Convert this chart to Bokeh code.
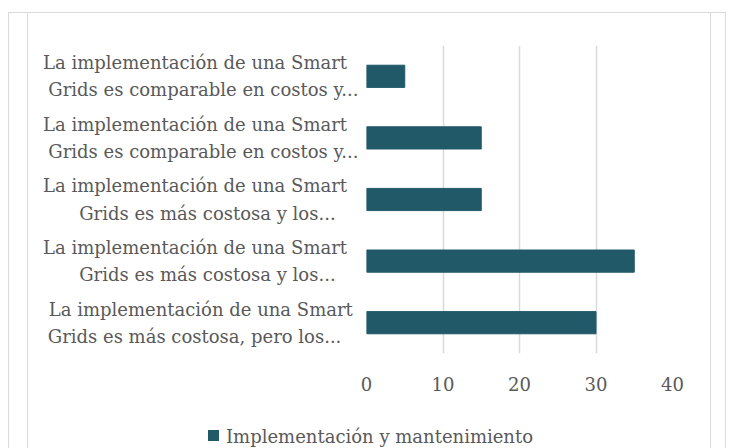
from bokeh.plotting import figure
from bokeh.layouts import column
from bokeh.models import (Range1d, FixedTicker, ColumnDataSource, InlineStyleSheet, Div)
from bokeh.embed import file_html
from bokeh.resources import INLINE

# Categories listed top to bottom as in the chart
categories = [
    "La implementación de una Smart\nGrids es comparable en costos y...",
    "La implementación de una Smart\nGrids es comparable en costos y...",
    "La implementación de una Smart\nGrids es más costosa y los...",
    "La implementación de una Smart\nGrids es más costosa y los...",
    "La implementación de una Smart\nGrids es más costosa, pero los...",
]
values = [5, 15, 15, 35, 30]
positions = [4, 3, 2, 1, 0]
x_ticks = [0, 10, 20, 30, 40]
series_name = "Implementación y mantenimiento"

FONT = "DejaVu Serif"
TXT = "#595959"
GRID = "#d9d9d9"
BAR = "#215968"

# emulate the centred wrapping of the original labels with trailing no-break spaces
NB = "\u00a0"
line_pads = [(2, 0), (2, 0), (2, 4), (2, 4), (1, 3)]


def pad_label(label, pads):
    lines = label.split("\n")
    return "\n".join(line + NB * n for line, n in zip(lines, pads))


tick_labels = {pos: pad_label(lab, pd)
               for pos, lab, pd in zip(positions, categories, line_pads)}

src = ColumnDataSource(dict(y=positions, value=values))

p = figure(width=741, height=410, output_backend="svg", toolbar_location=None,
           x_range=Range1d(0, 40), y_range=Range1d(-0.5, 4.5),
           min_border_left=366, min_border_right=69, min_border_top=45,
           min_border_bottom=57)
p.outline_line_color = None
p.background_fill_color = "white"
p.border_fill_color = "white"

r = p.hbar(y="y", left=0, right="value", height=0.36, source=src,
           fill_color=BAR, line_color=BAR)

p.xaxis.ticker = FixedTicker(ticks=x_ticks)
p.xaxis.axis_line_color = None
p.xaxis.major_tick_line_color = None
p.xaxis.minor_tick_line_color = None
p.xaxis.major_label_standoff = 17
p.xaxis.major_label_text_font = FONT
p.xaxis.major_label_text_font_size = "18px"
p.xaxis.major_label_text_color = TXT

p.yaxis.ticker = FixedTicker(ticks=positions)
p.yaxis.major_label_overrides = tick_labels
p.yaxis.axis_line_color = None
p.yaxis.major_tick_line_color = None
p.yaxis.minor_tick_line_color = None
p.yaxis.major_label_standoff = 2
p.yaxis.major_label_text_font = FONT
p.yaxis.major_label_text_font_size = "18px"
p.yaxis.major_label_text_color = TXT
p.yaxis.major_label_text_line_height = 1.3

p.ygrid.grid_line_color = None
p.xgrid.grid_line_color = GRID
p.xgrid.grid_line_width = 1.5

# legend strip below the chart
legend_html = (
    '<div style="position:relative;width:741px;height:38px;background:white;">'
    f'<span style="position:absolute;left:208px;top:20px;width:11px;height:11px;'
    f'background:{BAR};"></span>'
    f'<span style="position:absolute;left:226px;top:16px;white-space:nowrap;'
    f"font-family:'{FONT}';font-size:18px;line-height:21px;color:{TXT};\">"
    f'{series_name}</span></div>'
)
legend_div = Div(text=legend_html, width=741, height=38, margin=0)

layout = column(p, legend_div, spacing=0)

# light grey frame lines of the surrounding boxes
layout.stylesheets = [InlineStyleSheet(css="""
:host { position: relative; }
:host::before, :host::after {
  content: ""; position: absolute; top: 12px; height: 600px;
  border: 1.5px solid #d9d9d9; pointer-events: none; z-index: 5;
}
:host::before { left: 8px; width: 716px; }
:host::after { left: 27px; width: 682px; }
""")]

open("out.html", "w").write(file_html(layout, INLINE))
